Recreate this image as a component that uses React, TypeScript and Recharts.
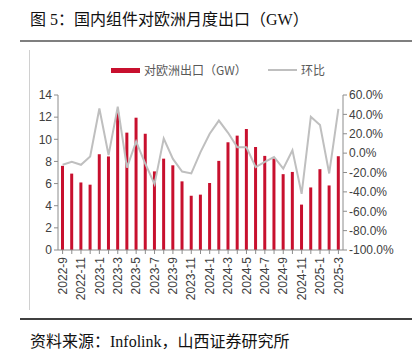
import React from 'react';
import { ComposedChart, Bar, Line, XAxis, YAxis } from 'recharts';

const months = [
  '2022-9', '2022-10', '2022-11', '2022-12',
  '2023-1', '2023-2', '2023-3', '2023-4', '2023-5', '2023-6', '2023-7', '2023-8', '2023-9', '2023-10', '2023-11', '2023-12',
  '2024-1', '2024-2', '2024-3', '2024-4', '2024-5', '2024-6', '2024-7', '2024-8', '2024-9', '2024-10', '2024-11', '2024-12',
  '2025-1', '2025-2', '2025-3',
];

// 对欧洲出口 (GW)
const exportsGW = [
  7.6, 6.9, 6.1, 5.9,
  8.65, 8.45, 12.45, 10.6, 11.95, 10.5, 7.1, 8.25, 7.65, 6.2, 4.9, 5.0,
  6.05, 8.05, 9.73, 10.33, 10.93, 9.3, 8.5, 8.26, 6.85, 7.05, 4.1, 5.65,
  7.3, 5.83, 8.47,
];

// 环比 (%)
const momPct = [
  -12, -9, -12, -3.5,
  46, -2, 48, -15, 12, -11, -32, 15, -6, -19, -21, 1,
  20, 33.6, 21, 6, 6, -14.5, -9, -4, -16, 3, -42, 37.5,
  29, -21, 45.7,
];

const leftTicks = [0, 2, 4, 6, 8, 10, 12, 14];
const rightTicks = [-100, -80, -60, -40, -20, 0, 20, 40, 60];

const data = months.map((m, i) => ({ month: m, exp: exportsGW[i], mom: momPct[i] }));

const RED = '#C8102E';
const GREY = '#BFBFBF';
const AXIS = '#8C8C8C';
const TEXT = '#404040';
const SANS = '"Liberation Sans", Arial, sans-serif';
const CJK = '"Noto Sans CJK SC", sans-serif';
const SERIF = '"Liberation Serif", "Noto Sans CJK SC", serif';

const MonthTick = (props: any) => {
  const { x, y, payload, index } = props;
  if (index % 2 !== 0) return <g />;
  return (
    <text
      x={x}
      y={y + 1}
      transform={`rotate(-90, ${x}, ${y + 1})`}
      textAnchor="end"
      dy="0.35em"
      fontSize={12}
      fontFamily={SANS}
      fill={TEXT}
    >
      {payload.value}
    </text>
  );
};

export default function App() {
  return (
    <div style={{ position: 'fixed', left: 0, top: 0, width: 415, height: 355, background: '#fff', overflow: 'hidden' }}>
      <div style={{ position: 'absolute', left: 30, top: 6, fontSize: 16, fontFamily: SERIF, color: '#111', whiteSpace: 'nowrap' }}>
        图 5：国内组件对欧洲月度出口（GW）
      </div>
      <div style={{ position: 'absolute', left: 20, top: 40, width: 392, height: 2, background: '#7F7F7F' }} />
      <div style={{ position: 'absolute', left: 29, top: 50, width: 1, height: 260, background: '#D0D0D0' }} />

      {/* legend */}
      <div style={{ position: 'absolute', left: 111, top: 68, width: 29, height: 5, background: RED }} />
      <div style={{ position: 'absolute', left: 144, top: 61, fontSize: 12, fontFamily: CJK, color: '#595959', whiteSpace: 'nowrap' }}>
        对欧洲出口（GW）
      </div>
      <div style={{ position: 'absolute', left: 268, top: 69, width: 29, height: 2, background: GREY }} />
      <div style={{ position: 'absolute', left: 301, top: 61, fontSize: 12, fontFamily: CJK, color: '#595959', whiteSpace: 'nowrap' }}>
        环比
      </div>

      <div style={{ position: 'absolute', left: 0, top: 0 }}>
        <ComposedChart width={415} height={355} data={data} margin={{ top: 95, right: 10, left: 10, bottom: 55 }}>
          <XAxis
            dataKey="month"
            interval={0}
            height={50}
            tick={<MonthTick />}
            tickSize={4}
            stroke={AXIS}
            tickLine={{ stroke: AXIS }}
          />
          <YAxis
            yAxisId="left"
            domain={[0, 14]}
            ticks={leftTicks}
            interval={0}
            width={48}
            stroke={AXIS}
            tickSize={4}
            tick={{ fontSize: 12, fontFamily: SANS, fill: TEXT }}
          />
          <YAxis
            yAxisId="right"
            orientation="right"
            domain={[-100, 60]}
            ticks={rightTicks}
            interval={0}
            width={62}
            stroke={AXIS}
            tickSize={4}
            tickFormatter={(v: number) => `${v.toFixed(1)}%`}
            tick={{ fontSize: 12, fontFamily: SANS, fill: TEXT }}
          />
          <Bar yAxisId="left" dataKey="exp" fill={RED} barSize={3} isAnimationActive={false} />
          <Line
            yAxisId="right"
            dataKey="mom"
            stroke={GREY}
            strokeWidth={2}
            dot={false}
            type="linear"
            isAnimationActive={false}
          />
        </ComposedChart>
      </div>

      <div style={{ position: 'absolute', left: 20, top: 318, width: 392, height: 2, background: '#404040' }} />
      <div style={{ position: 'absolute', left: 30, top: 328, fontSize: 16, fontFamily: SERIF, color: '#111', whiteSpace: 'nowrap' }}>
        资料来源：Infolink，山西证券研究所
      </div>
    </div>
  );
}
